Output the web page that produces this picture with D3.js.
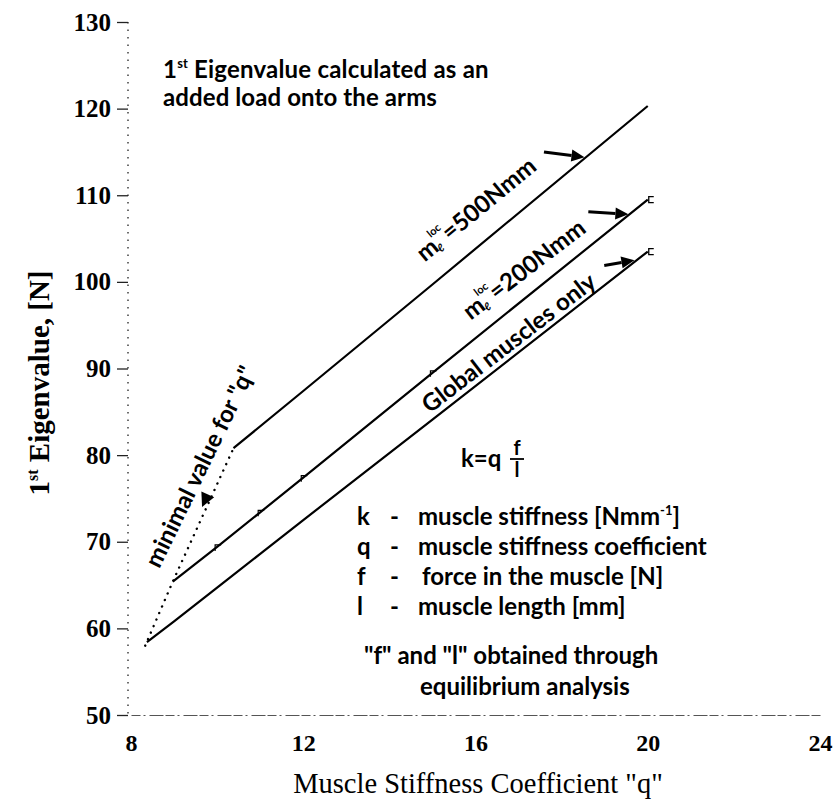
<!DOCTYPE html>
<html><head><meta charset="utf-8">
<script src="https://cdn.jsdelivr.net/npm/d3@7"></script>
<style>body{margin:0;background:#fff}</style>
</head><body>
<svg id="c" width="836" height="807"></svg>
<script>
// ---- data ----
const xTicks = [8, 12, 16, 20, 24];
const yTicks = [50, 60, 70, 80, 90, 100, 110, 120, 130];
const globalQ = [8.37, 9, 10, 11, 12, 15, 20];
const globalVal = [58.4, 60.8, 64.7, 68.6, 72.5, 84.1, 103.5];
const m200Q = [8.97, 10, 11, 12, 15, 20];
const m200Val = [65.4, 69.4, 73.4, 77.4, 89.5, 109.5];
const m500Q = [10.38, 12, 15, 20];
const m500Val = [80.8, 87.4, 99.7, 120.3];
const minQ = [8.33, 8.97, 10.38];
const minVal = [58.0, 65.4, 80.8];

const svg = d3.select("#c");
const x = d3.scaleLinear().domain([8, 24]).range([131, 820]);
const y = d3.scaleLinear().domain([50, 130]).range([715, 22]);
const serif = "'Liberation Serif','Times New Roman',serif";
const sans = "Lato,'Open Sans',sans-serif";

// y axis (dotted line + short ticks)
svg.append("line").attr("x1", 128).attr("x2", 128).attr("y1", y(130)).attr("y2", y(50))
  .attr("stroke", "#222").attr("stroke-width", 1.3).attr("stroke-dasharray", "1.5,6");
const yAxis = svg.append("g").attr("transform", "translate(128,0)")
  .call(d3.axisLeft(y).tickValues(yTicks).tickSize(11).tickPadding(6));
yAxis.select(".domain").remove();
yAxis.selectAll(".tick line").attr("stroke", "#222").attr("stroke-width", 1.3);
yAxis.selectAll(".tick text").attr("font-family", serif).attr("font-weight", "bold")
  .attr("font-size", 25).attr("fill", "#000");

// x axis (light dashed)
const xAxis = svg.append("g").attr("transform", `translate(0,${y(50)})`)
  .call(d3.axisBottom(x).tickValues(xTicks).tickSize(0).tickPadding(19));
xAxis.select(".domain").attr("stroke", "#555").attr("stroke-width", 1.2).attr("stroke-dasharray", "9,3,2,4,14,2");
xAxis.selectAll(".tick text").attr("font-family", serif).attr("font-weight", "bold")
  .attr("font-size", 24).attr("fill", "#000");

// axis titles
svg.append("text").attr("transform", "translate(49,383) rotate(-90)")
  .attr("text-anchor", "middle").attr("font-family", serif).attr("font-weight", "bold")
  .attr("font-size", 29)
  .call(t => { t.append("tspan").text("1");
               t.append("tspan").attr("font-size", 16).attr("dy", -11).text("st");
               t.append("tspan").attr("dy", 11).text(" Eigenvalue, [N]"); });
svg.append("text").attr("x", 478).attr("y", 793).attr("text-anchor", "middle")
  .attr("font-family", serif).attr("font-size", 28.5).text('Muscle Stiffness Coefficient "q"');

// lines
const line = d3.line().x(d => x(d[0])).y(d => y(d[1]));
const series = [[globalQ, globalVal], [m200Q, m200Val], [m500Q, m500Val]];
series.forEach(([q, v]) => {
  svg.append("path").datum(q.map((d, i) => [d, v[i]])).attr("d", line)
    .attr("fill", "none").attr("stroke", "#000").attr("stroke-width", 2.2);
});
// small markers on 200 series
svg.append("g").selectAll("path").data(m200Q.map((d, i) => [d, m200Val[i]]).slice(1, -1))
  .join("path").attr("transform", d => `translate(${x(d[0])},${y(d[1])})`)
  .attr("d", "M-2,4 L-2,-2 L4,-2").attr("fill", "none").attr("stroke", "#000").attr("stroke-width", 1.2);
// end markers
const ends = [[m200Q[m200Q.length - 1], m200Val[m200Val.length - 1]], [globalQ[globalQ.length - 1], globalVal[globalVal.length - 1]]];
svg.append("g").selectAll("path").data(ends).join("path")
  .attr("transform", d => `translate(${x(d[0])},${y(d[1])})`)
  .attr("d", "M6,-3 L1,-3 L1,3 L6,3").attr("fill", "none").attr("stroke", "#000").attr("stroke-width", 1.3);

// dotted minimal line
svg.append("path").datum(minQ.map((d, i) => [d, minVal[i]])).attr("d", line)
  .attr("fill", "none").attr("stroke", "#000").attr("stroke-width", 2.4)
  .attr("stroke-linecap", "round").attr("stroke-dasharray", "0.1,7");

// arrows
function arrow(q1, v1, q2, v2) {
  const x1 = x(q1), y1 = y(v1), x2 = x(q2), y2 = y(v2);
  const a = Math.atan2(y2 - y1, x2 - x1);
  const L = 13, W = 6;
  const bx = x2 - L * Math.cos(a), by = y2 - L * Math.sin(a);
  svg.append("line").attr("x1", x1).attr("y1", y1).attr("x2", bx).attr("y2", by)
    .attr("stroke", "#000").attr("stroke-width", 3);
  svg.append("path").attr("d", `M${x2},${y2} L${bx - W * Math.sin(a)},${by + W * Math.cos(a)} L${bx + W * Math.sin(a)},${by - W * Math.cos(a)} Z`)
    .attr("fill", "#000");
}
arrow(17.59, 115.0, 18.53, 114.4);
arrow(18.62, 108.1, 19.55, 107.8);
arrow(18.99, 101.9, 19.69, 102.5);
// arrowhead on minimal line
(function () {
  const px = x(9.65), py = y(74.0);
  const a = Math.atan2(y(minVal[0]) - y(minVal[2]), x(minQ[0]) - x(minQ[2]));
  const L = 14, W = 7;
  const bx = px - L * Math.cos(a), by = py - L * Math.sin(a);
  svg.append("path").attr("d", `M${px},${py} L${bx - W * Math.sin(a)},${by + W * Math.cos(a)} L${bx + W * Math.sin(a)},${by - W * Math.cos(a)} Z`).attr("fill", "#000");
})();

// rotated labels
function mlabel(cx, cy, ang, val) {
  const t = svg.append("text").attr("transform", `translate(${cx},${cy}) rotate(${ang})`)
    .attr("text-anchor", "middle").attr("font-family", sans).attr("font-weight", "bold")
    .attr("font-size", 24).attr("dominant-baseline", "central");
  t.append("tspan").text("m");
  t.append("tspan").attr("font-size", 11).attr("dy", -10).text("loc");
  t.append("tspan").attr("font-size", 11).attr("dx", -16).attr("dy", 18).text("ℓ");
  t.append("tspan").attr("dx", 8).attr("dy", -8).text("=" + val + "Nmm");
}
mlabel(475, 208, -39.5, 500);
mlabel(523, 268, -37.5, 200);
svg.append("text").attr("transform", "translate(508,342) rotate(-37.5)")
  .attr("text-anchor", "middle").attr("dominant-baseline", "central").attr("font-family", sans)
  .attr("font-weight", "bold").attr("font-size", 24).text("Global muscles only");
svg.append("text").attr("transform", "translate(199,466) rotate(-64)")
  .attr("text-anchor", "middle").attr("dominant-baseline", "central").attr("font-family", sans)
  .attr("font-weight", "bold").attr("font-size", 24).text('minimal value for "q"');

// top note
const note = svg.append("text").attr("x", 163).attr("y", 78).attr("font-family", sans)
  .attr("font-weight", "bold").attr("font-size", 24).attr("letter-spacing", 0.2);
note.append("tspan").text("1");
note.append("tspan").attr("font-size", 13).attr("dy", -10).text("st");
note.append("tspan").attr("dy", 10).attr("dx", 6).text("Eigenvalue calculated as an");
svg.append("text").attr("x", 163).attr("y", 106).attr("font-family", sans)
  .attr("font-weight", "bold").attr("font-size", 24).attr("letter-spacing", 0.1).text("added load onto the arms");

// formula
const fg = svg.append("g").attr("font-family", sans).attr("font-weight", "bold").attr("font-size", 24);
fg.append("text").attr("x", 461).attr("y", 467).text("k=q");
fg.append("text").attr("x", 517).attr("y", 455).attr("text-anchor", "middle").attr("font-size", 20).text("f");
fg.append("line").attr("x1", 510).attr("x2", 524).attr("y1", 459).attr("y2", 459).attr("stroke", "#000").attr("stroke-width", 1.8);
fg.append("text").attr("x", 517).attr("y", 477).attr("text-anchor", "middle").attr("font-size", 20).text("l");

// legend definitions
const defSym = ["k", "q", "f", "l"];
const defTxt = ["muscle stiffness [Nmm", "muscle stiffness coefficient", "force in the muscle [N]", "muscle length [mm]"];
const lg = svg.append("g").attr("font-family", sans).attr("font-weight", "bold").attr("font-size", 24);
defSym.forEach((s, i) => {
  const yy = 525 + i * 30;
  lg.append("text").attr("x", 357).attr("y", yy).text(s);
  lg.append("text").attr("x", 390).attr("y", yy).text("-");
  const t = lg.append("text").attr("x", i === 2 ? 422 : 418).attr("y", yy).text(defTxt[i]);
  if (i === 0) {
    t.append("tspan").attr("font-size", 13).attr("dy", -10).text("-1");
    t.append("tspan").attr("dy", 10).text("]");
  }
});
lg.append("text").attr("x", 364).attr("y", 664).text('"f" and "l" obtained through');
lg.append("text").attr("x", 420).attr("y", 695).text("equilibrium analysis");
</script>
</body></html>
